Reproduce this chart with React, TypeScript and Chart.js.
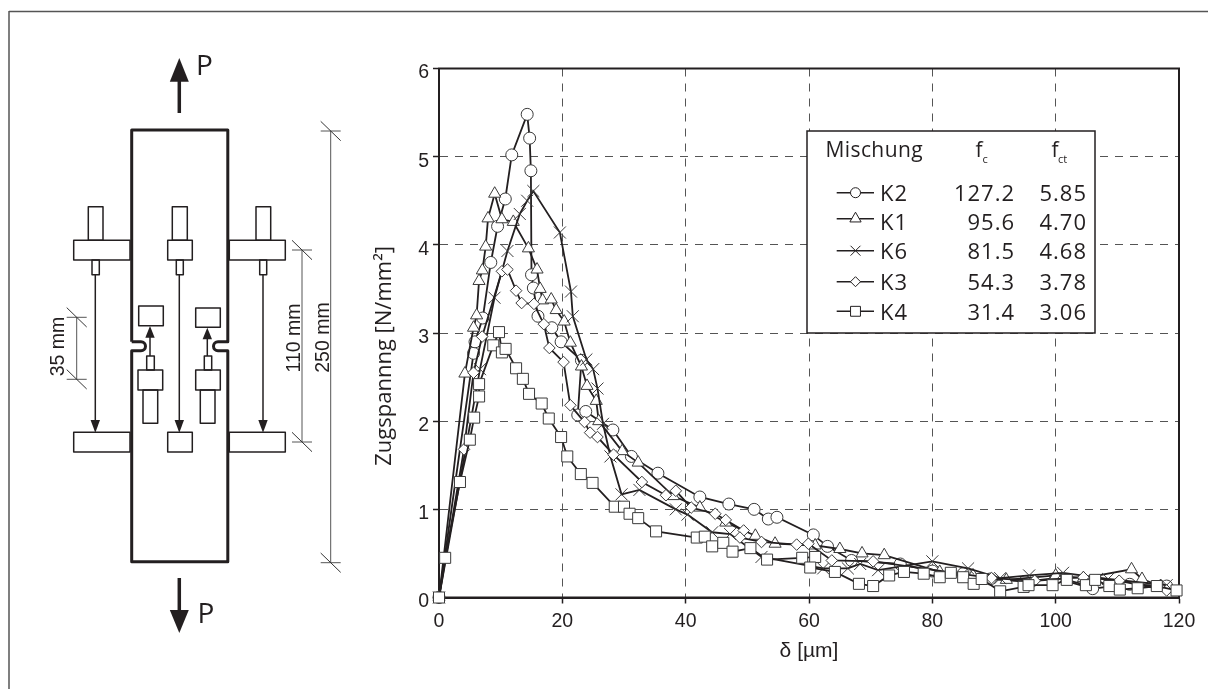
import React, { useEffect, useRef } from "react";
import { Chart, registerables } from "chart.js";
import { drawPoint } from "chart.js/helpers";

Chart.register(...registerables);

const k2: [number, number][] = [[0,0],[5.6,2.77],[5.84,2.9],[7.1,3.17],[8.4,3.8],[9.5,4.21],[10.75,4.52],[11.8,5.02],[14.3,5.48],[14.7,5.21],[14.9,4.84],[15,3.66],[15.3,3.51],[16.05,3.19],[18.3,3.06],[19.8,2.9],[23.1,2.69],[22.5,2.07],[23.8,2.11],[28.2,1.9],[31.2,1.6],[35.5,1.41],[42.3,1.14],[47,1.06],[51.1,1.0],[53.4,0.89],[54.8,0.91],[60.7,0.71],[63,0.58],[66.9,0.42],[74.8,0.38],[80,0.3],[85,0.27],[89.4,0.21],[95,0.18],[100,0.22],[106,0.1],[112,0.15],[118,0.13]];
const k1: [number, number][] = [[0,0],[4.2,2.54],[5.6,3.06],[6.1,3.2],[6.49,3.59],[7.03,3.71],[7.57,3.98],[7.95,4.3],[9.03,4.58],[10.2,4.29],[12.05,4.26],[14.5,3.96],[15.9,3.72],[16.4,3.5],[16.8,3.37],[18.2,3.38],[19,3.26],[20.3,3.13],[21.3,2.89],[23.1,2.62],[24,2.4],[25.5,2.23],[25.9,2.0],[29.7,1.66],[32.3,1.53],[38,1.15],[42.3,1.02],[46.5,0.85],[51.3,0.7],[54.5,0.61],[61,0.59],[65,0.55],[68.6,0.5],[72.2,0.48],[81.2,0.29],[86.6,0.25],[92,0.2],[100,0.25],[104.5,0.22],[112.3,0.32],[114,0.21],[117,0.13]];
const k6: [number, number][] = [[0,0],[6.65,2.59],[9,3.4],[11.1,3.93],[13.1,4.35],[14.3,4.5],[15.3,4.61],[19.6,4.14],[21.4,3.47],[21.7,3.19],[23.9,2.7],[25,2.59],[25.7,2.37],[26.6,1.97],[27.8,1.6],[29.6,1.17],[32.5,1.22],[38.4,1.0],[40.3,0.94],[44.3,0.74],[47.2,0.72],[52.3,0.46],[62.3,0.33],[66.3,0.33],[68.3,0.38],[71.2,0.31],[80,0.41],[85.8,0.33],[91,0.22],[95.7,0.25],[101.2,0.28],[108.5,0.21],[118,0.14]];
const k3: [number, number][] = [[0,0],[4.05,1.68],[5.6,2.55],[7,2.96],[10.2,3.7],[11.1,3.72],[12.5,3.48],[13.4,3.34],[15.4,3.33],[17,3.1],[17.9,2.83],[20.2,2.67],[21.3,2.18],[23.6,1.99],[24.5,1.87],[25.7,1.82],[28.3,1.62],[32.9,1.31],[36.8,1.16],[38.4,1.21],[40.9,1.02],[44.8,0.95],[46.5,0.88],[49.4,0.76],[48.8,0.68],[52.3,0.63],[58,0.6],[59.9,0.61],[63.7,0.42],[70.4,0.41],[89.6,0.22],[96.6,0.19],[104.5,0.23],[110.3,0.19],[118,0.08]];
const k4: [number, number][] = [[0,0],[1,0.45],[3.4,1.31],[5,1.79],[5.7,2.04],[6.5,2.28],[6.5,2.42],[8.8,2.86],[9.73,3.01],[10.2,2.78],[10.8,2.82],[12.5,2.6],[13.6,2.48],[14.6,2.31],[16.65,2.2],[17.8,2.03],[19.8,1.82],[20.8,1.6],[23,1.4],[24.9,1.3],[28.5,1.03],[30,1.03],[30.9,0.95],[32.3,0.9],[35.2,0.75],[41.8,0.68],[43.1,0.69],[44.3,0.58],[46.1,0.62],[47.6,0.52],[50.5,0.56],[53.2,0.43],[58.9,0.45],[61,0.46],[60.2,0.34],[64.2,0.29],[68.1,0.155],[70.4,0.13],[73,0.25],[75.4,0.29],[78.6,0.27],[81.2,0.23],[83,0.28],[85,0.23],[86.7,0.155],[88,0.21],[91,0.07],[94.8,0.12],[95.6,0.14],[99.5,0.14],[101.8,0.2],[104.9,0.14],[106.4,0.2],[108.7,0.13],[110.4,0.09],[113.3,0.105],[116.4,0.13],[119.6,0.08]];

const mixtures = ["K2", "K1", "K6", "K3", "K4"];
const fc = ["127.2", "95.6", "81.5", "54.3", "31.4"];
const fct = ["5.85", "4.70", "4.68", "3.78", "3.06"];
const pointStyles = ["circle", "triangle", "crossRot", "rectRot", "rect"];
const pointRadii = [6, 7, 8.5, 5.8, 7.8];
const xTicks = [0, 20, 40, 60, 80, 100, 120];
const yTicks = [0, 1, 2, 3, 4, 5, 6];

const INK = "#231f20";
const WIDE = '"Open Sans", sans-serif';
const HELV = '"Liberation Sans", Arial, sans-serif';

function drawSchematic(ctx: CanvasRenderingContext2D) {
  const rect = (x0: number, y0: number, x1: number, y1: number) => {
    ctx.lineWidth = 1.5;
    ctx.strokeStyle = INK;
    ctx.strokeRect(x0, y0, x1 - x0, y1 - y0);
  };
  const line = (x0: number, y0: number, x1: number, y1: number, w = 1, c = INK) => {
    ctx.lineWidth = w;
    ctx.strokeStyle = c;
    ctx.beginPath();
    ctx.moveTo(x0, y0);
    ctx.lineTo(x1, y1);
    ctx.stroke();
  };
  const head = (x: number, tip: number, base: number, hw: number) => {
    ctx.fillStyle = INK;
    ctx.beginPath();
    ctx.moveTo(x, tip);
    ctx.lineTo(x + hw, base);
    ctx.lineTo(x - hw, base);
    ctx.closePath();
    ctx.fill();
  };

  ctx.save();
  ctx.lineCap = "butt";
  line(9, 11.5, 1208, 11.5, 1.5, "#555");
  line(9, 11, 9, 689, 1.5, "#555");

  ctx.lineWidth = 3;
  ctx.strokeStyle = INK;
  ctx.lineJoin = "round";
  ctx.beginPath();
  ctx.moveTo(131.7, 341.7);
  ctx.lineTo(131.7, 130);
  ctx.lineTo(227.8, 130);
  ctx.lineTo(227.8, 341.7);
  ctx.lineTo(218, 341.7);
  ctx.arc(218, 346.2, 4.5, -Math.PI / 2, Math.PI / 2, true);
  ctx.lineTo(227.8, 350.7);
  ctx.lineTo(227.8, 561.7);
  ctx.lineTo(131.7, 561.7);
  ctx.lineTo(131.7, 350.7);
  ctx.lineTo(141, 350.7);
  ctx.arc(141, 346.2, 4.5, Math.PI / 2, -Math.PI / 2, true);
  ctx.lineTo(131.7, 341.7);
  ctx.stroke();

  line(179.3, 113, 179.3, 80, 3.5);
  head(179.3, 58, 81.7, 9.5);
  line(179.3, 578, 179.3, 612, 3.5);
  head(179.3, 633, 610, 9.5);

  rect(73.7, 240.3, 130, 260);
  rect(229.3, 240.3, 285.3, 260);
  rect(167.7, 240.3, 192.3, 260);
  rect(88.3, 206.7, 103, 240.3);
  rect(172.3, 206.7, 187.3, 240.3);
  rect(256, 206.7, 270.7, 240.3);
  rect(92, 260, 99.3, 274.7);
  rect(176.3, 260, 183.3, 274.7);
  rect(259.7, 260, 266.7, 274.7);
  rect(73.7, 432.3, 130, 452);
  rect(229.3, 432.3, 285.3, 452);
  rect(167.7, 432.3, 192.3, 452);
  [95.3, 179.3, 263].forEach((x) => {
    line(x, 274.7, x, 422, 1.5);
    head(x, 432.7, 420, 4.7);
  });
  rect(138.7, 306, 163.3, 325.7);
  rect(195.7, 308, 220.3, 327.3);
  line(150, 337, 150, 356, 1.5);
  head(150, 326, 337.7, 4.7);
  line(207.3, 338, 207.3, 356, 1.5);
  head(207.3, 327.7, 339.3, 4.7);
  rect(146.7, 356, 154.3, 370);
  rect(204.3, 356, 211.7, 370);
  rect(138, 370, 162.7, 390);
  rect(195.7, 370, 220.3, 390);
  rect(143, 390, 157.7, 423.3);
  rect(200.3, 390, 215, 423.3);

  const dim = (x: number, y0: number, y1: number) => {
    line(x, y0, x, y1, 1, "#555");
    [y0, y1].forEach((y) => {
      line(x - 10, y, x + 10, y, 1, "#555");
      line(x - 10, y - 9.7, x + 10, y + 9.7, 1, "#333");
    });
  };
  dim(330.7, 131, 562.7);
  dim(302, 250, 442);
  dim(76.7, 317.3, 379.3);

  ctx.fillStyle = INK;
  ctx.font = `28px ${WIDE}`;
  ctx.textAlign = "left";
  ctx.textBaseline = "alphabetic";
  ctx.fillText("P", 196, 75);
  ctx.fillText("P", 197.5, 623);
  ctx.font = `19.5px ${HELV}`;
  ctx.textAlign = "center";
  const vtext = (t: string, x: number, y: number) => {
    ctx.save();
    ctx.translate(x, y);
    ctx.rotate(-Math.PI / 2);
    ctx.fillText(t, 0, 0);
    ctx.restore();
  };
  vtext("35 mm", 64, 346.5);
  vtext("110 mm", 300, 338);
  vtext("250 mm", 329, 337.5);
  ctx.restore();
}

function drawLegendTable(ctx: CanvasRenderingContext2D) {
  const rowLine = [192.7, 218.7, 250.7, 281.7, 311.3];
  const rowBase = [200.5, 230, 259.3, 290, 320];
  const radii = [5, 6.5, 7, 5, 7];
  ctx.save();
  ctx.fillStyle = "#fff";
  ctx.fillRect(807, 131, 288, 202);
  ctx.strokeStyle = INK;
  ctx.lineWidth = 1.5;
  ctx.strokeRect(807, 131, 288, 202);
  ctx.fillStyle = INK;
  ctx.textBaseline = "alphabetic";
  ctx.textAlign = "left";
  ctx.font = `21px ${WIDE}`;
  (ctx as any).letterSpacing = "0.4px";
  ctx.fillText("Mischung", 825.5, 157.3);
  ctx.fillText("f", 975.5, 157.3);
  ctx.fillText("f", 1051.5, 157.3);
  ctx.font = `11px ${WIDE}`;
  (ctx as any).letterSpacing = "0px";
  ctx.fillText("c", 982.5, 162.7);
  ctx.fillText("ct", 1058, 162.7);
  mixtures.forEach((name, i) => {
    const y = rowLine[i];
    ctx.strokeStyle = INK;
    ctx.lineWidth = 1.5;
    ctx.beginPath();
    ctx.moveTo(836.7, y);
    ctx.lineTo(874, y);
    ctx.stroke();
    ctx.fillStyle = "#fff";
    ctx.lineWidth = 1;
    drawPoint(ctx, { pointStyle: pointStyles[i], rotation: 0, radius: radii[i], borderWidth: 1 } as any, 855.5, y);
    ctx.fillStyle = INK;
    ctx.font = `22px ${WIDE}`;
    ctx.textAlign = "left";
    (ctx as any).letterSpacing = "1px";
    ctx.fillText(name, 880, rowBase[i]);
    ctx.textAlign = "right";
    ctx.fillText(fc[i], 1015, rowBase[i]);
    ctx.fillText(fct[i], 1087, rowBase[i]);
  });
  ctx.restore();
}

const paperPlugin = {
  id: "paper",
  beforeDatasetsDraw(chart: any) {
    const { ctx, chartArea: a } = chart;
    ctx.save();
    ctx.strokeStyle = INK;
    ctx.lineWidth = 2;
    ctx.strokeRect(a.left, a.top, a.right - a.left, a.bottom - a.top);
    ctx.restore();
    drawSchematic(ctx);
  },
  afterDatasetsDraw(chart: any) {
    drawLegendTable(chart.ctx);
  },
};

export default function App() {
  const ref = useRef<HTMLCanvasElement>(null);
  useEffect(() => {
    const series = [k2, k1, k6, k3, k4];
    const chart = new Chart(ref.current as HTMLCanvasElement, {
      type: "scatter",
      data: {
        datasets: series.map((s, i) => ({
          label: mixtures[i],
          data: s.map(([x, y]) => ({ x, y })),
          showLine: true,
          borderColor: INK,
          borderWidth: 1.8,
          pointStyle: pointStyles[i] as any,
          pointRadius: pointRadii[i],
          pointBackgroundColor: "#ffffff",
          pointBorderColor: "#3a3a3a",
          pointBorderWidth: 1,
          clip: false as any,
          order: 5 - i,
        })),
      },
      options: {
        animation: false,
        responsive: false,
        devicePixelRatio: 1,
        layout: { padding: { left: 0, right: 29, top: 68.5, bottom: 0 } },
        plugins: { legend: { display: false }, tooltip: { enabled: false } },
        scales: {
          x: {
            type: "linear",
            min: 0,
            max: 120,
            afterBuildTicks: (s: any) => { s.ticks = xTicks.map((value) => ({ value })); },
            afterFit: (s: any) => { s.height = 91.5; },
            grid: { color: "#555", lineWidth: 1, tickLength: 6, tickColor: INK, tickWidth: 1.5 } as any,
            border: { dash: [8, 7], color: INK, width: 2 },
            ticks: { color: INK, font: { family: HELV, size: 19.5 }, padding: 6, maxRotation: 0 },
            title: { display: true, text: "δ [µm]", color: INK, font: { family: HELV, size: 21 }, padding: { top: 0, bottom: 25 } },
          },
          y: {
            type: "linear",
            min: 0,
            max: 6,
            afterBuildTicks: (s: any) => { s.ticks = yTicks.map((value) => ({ value })); },
            afterFit: (s: any) => { s.width = 439; },
            grid: { color: "#555", lineWidth: 1, tickLength: 6, tickColor: INK, tickWidth: 1.5 } as any,
            border: { dash: [8, 7], color: INK, width: 2 },
            ticks: {
              color: INK,
              font: { family: HELV, size: 19.5, lineHeight: "9px" },
              padding: 4,
              callback: (v: any) => ["", String(v)],
            },
            title: { display: true, text: "Zugspannng [N/mm²]        ", color: INK, font: { family: WIDE, size: 22 }, padding: { top: 372, bottom: 0 } },
          },
        },
      },
      plugins: [paperPlugin],
    } as any);
    return () => chart.destroy();
  }, []);
  return (
    <div style={{ position: "absolute", left: 0, top: 0, width: 1208, height: 689, background: "#fff", overflow: "hidden" }}>
      <canvas ref={ref} width={1208} height={689} style={{ display: "block" }} />
    </div>
  );
}
